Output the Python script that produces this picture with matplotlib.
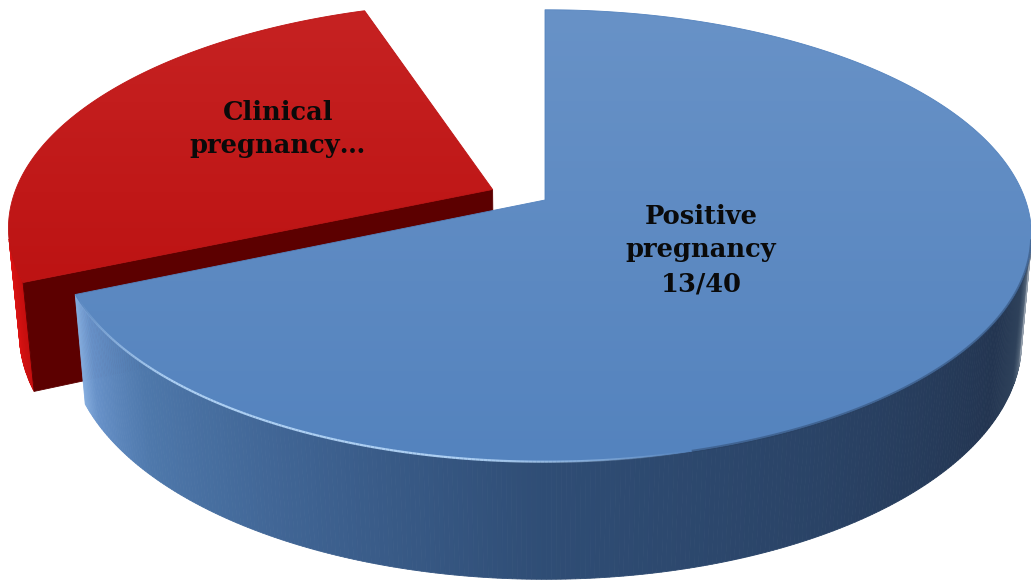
import numpy as np
import matplotlib.pyplot as plt
from matplotlib.patches import Polygon
from matplotlib.collections import LineCollection
from matplotlib.colors import to_rgb

# chart data
labels = ['Positive\npregnancy\n13/40', 'Clinical\npregnancy\u2026', '']
values = [13, 5, 1]
explode = [0.0, 0.12, 0.0]
top_colors = [('#6892C7', '#5483BE'), ('#C62222', '#BD1313'), None]
# wall colour stops (angle in degrees, colour)
wall_stops = [
    [(203, '#8AB2E2'), (209, '#6892C9'), (222, '#4E78AB'), (245, '#3E6291'),
     (270, '#2F4D75'), (300, '#2A4366'), (330, '#233551'), (340, '#2F425B'),
     (345, '#56677B'), (349, '#A0AAB6')],
    [(185, '#F03A3A'), (193, '#E21414'), (204, '#C40E0E')],
    None,
]
side_colors = [None, '#5C0000', None]
label_pos = [(701, 250), (278, 129), None]

# fake 3d camera
f = 2700.0
dist = 5.62
elev = np.radians(27.3)
cx, cy = 545.0, 200.0
thick = 0.25
s_e, c_e = np.sin(elev), np.cos(elev)
cam = np.array([0.0, -dist * c_e, dist * s_e])


def proj(u, v, h):
    depth = dist + v * c_e - h * s_e
    return cx + f * u / depth, cy - f * (v * s_e + h * c_e) / depth


def wall_color(stops, t):
    ang = np.array([p[0] for p in stops], float)
    cols = np.array([to_rgb(p[1]) for p in stops])
    t = t % 360
    return tuple(np.interp(t, ang, cols[:, k]) for k in range(3))


fig = plt.figure(figsize=(10.31, 5.84), dpi=100)
ax = fig.add_axes([0, 0, 1, 1])
ax.set_xlim(0, 1031)
ax.set_ylim(584, 0)
ax.axis('off')

frac = np.array(values, float) / sum(values)
bounds = 90 - 360 * np.concatenate([[0], np.cumsum(frac)])
mids = (bounds[:-1] + bounds[1:]) / 2
order = np.argsort(-np.sin(np.radians(mids)))  # far slices first

for i in order:
    if top_colors[i] is None:
        continue
    a, b = bounds[i + 1], bounds[i]
    m = np.radians(mids[i])
    ou, ov = explode[i] * np.cos(m), explode[i] * np.sin(m)

    # outer wall
    ts = np.linspace(a, b, int((b - a) * 2) + 2)
    for t1, t2 in zip(ts[:-1], ts[1:]):
        tm = np.radians((t1 + t2) / 2)
        p = np.array([ou + np.cos(tm), ov + np.sin(tm), 0.0])
        n = np.array([np.cos(tm), np.sin(tm), 0.0])
        if np.dot(n, cam - p) <= 0:
            continue
        r1, r2 = np.radians(t1), np.radians(t2)
        pts = [proj(ou + np.cos(r1), ov + np.sin(r1), 0),
               proj(ou + np.cos(r2), ov + np.sin(r2), 0),
               proj(ou + np.cos(r2), ov + np.sin(r2), -thick),
               proj(ou + np.cos(r1), ov + np.sin(r1), -thick)]
        col = wall_color(wall_stops[i], (t1 + t2) / 2)
        ax.add_patch(Polygon(pts, closed=True, facecolor=col, edgecolor=col, lw=0.6))

    # radial faces
    for ang, sgn in ((b, 1), (a, -1)):
        r = np.radians(ang)
        n = sgn * np.array([-np.sin(r), np.cos(r), 0.0])
        o = np.array([ou, ov, 0.0])
        if np.dot(n, cam - o) <= 0 or side_colors[i] is None:
            continue
        pts = [proj(ou, ov, 0), proj(ou + np.cos(r), ov + np.sin(r), 0),
               proj(ou + np.cos(r), ov + np.sin(r), -thick), proj(ou, ov, -thick)]
        ax.add_patch(Polygon(pts, closed=True, facecolor=side_colors[i],
                             edgecolor=side_colors[i], lw=0.6))

    # top face with gradient
    rr = np.radians(np.linspace(a, b, 400))
    rim = [proj(ou + np.cos(t), ov + np.sin(t), 0) for t in rr]
    pts = [proj(ou, ov, 0)] + rim
    xs = [q[0] for q in pts]
    ys = [q[1] for q in pts]
    poly = Polygon(pts, closed=True, facecolor='none', edgecolor='none')
    ax.add_patch(poly)
    c0, c1 = np.array(to_rgb(top_colors[i][0])), np.array(to_rgb(top_colors[i][1]))
    g = np.linspace(0, 1, 256)[:, None, None]
    img = c0 + (c1 - c0) * g
    img = np.repeat(img, 2, axis=1)
    im = ax.imshow(img, extent=(min(xs), max(xs), max(ys), min(ys)),
                   aspect='auto', interpolation='bilinear', zorder=1)
    im.set_clip_path(poly)
    ax.add_patch(Polygon(pts, closed=True, facecolor='none',
                         edgecolor=top_colors[i][1], lw=0.6, zorder=1))

    # glossy rim highlight on the front edge
    if i == 0:
        th = np.radians(np.linspace(204, 285, 200))
        xy = np.array([proj(np.cos(t), np.sin(t), 0) for t in th])
        segs = np.stack([xy[:-1], xy[1:]], axis=1)
        w = np.linspace(0, 1, len(segs))
        alph = np.clip(np.sin(np.pi * w) * 1.3, 0, 1) * 0.9
        cols = [(0.72, 0.85, 0.98, al) for al in alph]
        ax.add_collection(LineCollection(segs, colors=cols, linewidths=1.6, zorder=2))
        th = np.radians(np.linspace(285, 350, 150))
        xy = np.array([proj(np.cos(t), np.sin(t), 0) for t in th])
        segs = np.stack([xy[:-1], xy[1:]], axis=1)
        ax.add_collection(LineCollection(segs, colors=[(0.16, 0.25, 0.38, 0.45)],
                                         linewidths=2.0, zorder=2))

for i, lab in enumerate(labels):
    if not lab:
        continue
    x, y = label_pos[i]
    ax.text(x, y, lab, ha='center', va='center', family='DejaVu Serif',
            weight='bold', fontsize=18.5, linespacing=1.45, color='#0A0A0A', zorder=5)

fig.savefig('out.png', dpi=100)
